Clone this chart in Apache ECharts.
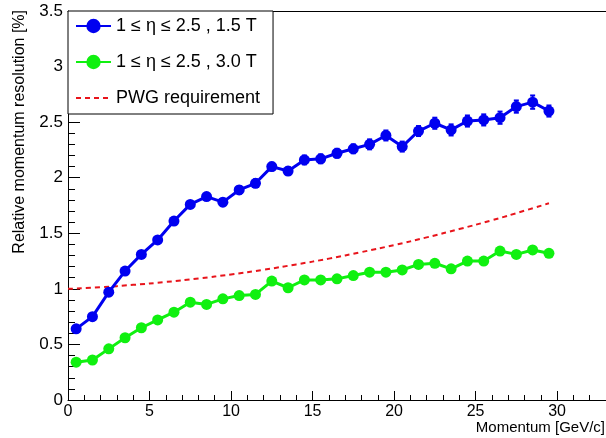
<!DOCTYPE html>
<html>
<head>
<meta charset="utf-8">
<script src="https://cdn.jsdelivr.net/npm/echarts@6/dist/echarts.min.js"></script>
<style>
  html, body { margin: 0; padding: 0; background: #ffffff; }
  #chart { width: 606px; height: 438px; }
</style>
</head>
<body>
<div id="chart"></div>
<script>
  // bin centres (GeV/c)
  const momentum = [0.5, 1.5, 2.5, 3.5, 4.5, 5.5, 6.5, 7.5, 8.5, 9.5, 10.5, 11.5, 12.5, 13.5, 14.5,
    15.5, 16.5, 17.5, 18.5, 19.5, 20.5, 21.5, 22.5, 23.5, 24.5, 25.5, 26.5, 27.5, 28.5, 29.5]

  // 1 <= eta <= 2.5, 1.5 T
  const res15T = [0.64, 0.75, 0.97, 1.16, 1.31, 1.44, 1.61, 1.76, 1.83, 1.78, 1.89, 1.95, 2.10, 2.06, 2.16,
    2.17, 2.22, 2.26, 2.30, 2.38, 2.28, 2.42, 2.49, 2.43, 2.51, 2.52, 2.54, 2.64, 2.68, 2.60]
  const err15T = [0.02, 0.02, 0.02, 0.025, 0.025, 0.025, 0.03, 0.03, 0.03, 0.03, 0.035, 0.035, 0.035, 0.035, 0.04,
    0.04, 0.04, 0.04, 0.045, 0.045, 0.045, 0.045, 0.05, 0.05, 0.05, 0.05, 0.055, 0.055, 0.06, 0.05]

  // 1 <= eta <= 2.5, 3.0 T
  const res30T = [0.34, 0.36, 0.46, 0.56, 0.65, 0.72, 0.79, 0.88, 0.86, 0.91, 0.94, 0.95, 1.07, 1.01, 1.08,
    1.08, 1.09, 1.12, 1.15, 1.15, 1.17, 1.22, 1.23, 1.18, 1.25, 1.25, 1.34, 1.31, 1.35, 1.32]
  const err30T = [0.015, 0.015, 0.015, 0.015, 0.015, 0.015, 0.02, 0.02, 0.02, 0.02, 0.02, 0.02, 0.02, 0.02, 0.02,
    0.02, 0.02, 0.025, 0.025, 0.025, 0.025, 0.025, 0.025, 0.025, 0.03, 0.03, 0.03, 0.03, 0.03, 0.03]

  // PWG requirement curve
  const pwgMomentum = [0, 2, 4, 6, 8, 10, 12, 14, 16, 18, 20, 22, 24, 26, 28, 29.5]
  const pwgRes = [1.00, 1.015, 1.036, 1.062, 1.093, 1.13, 1.172, 1.22, 1.272, 1.331, 1.394, 1.463, 1.538, 1.617, 1.703, 1.77]

  const legendNames = ['1 ≤ η ≤ 2.5 , 1.5 T', '1 ≤ η ≤ 2.5 , 3.0 T', 'PWG requirement']

  const FONT = 'Liberation Sans, Arial, Helvetica, sans-serif'
  const BLUE = '#0000f0'
  const GREEN = '#10f010'
  const RED = '#e8141b'

  function pairs(xs, ys) {
    return xs.map((x, i) => [x, ys[i]])
  }

  function errData(xs, ys, es) {
    return xs.map((x, i) => [x, ys[i] - es[i], ys[i] + es[i]])
  }

  function errorBars(color) {
    return function (params, api) {
      const top = api.coord([api.value(0), api.value(2)])
      const bot = api.coord([api.value(0), api.value(1)])
      const cap = 2.5
      const style = { stroke: color, lineWidth: 2 }
      return {
        type: 'group',
        children: [
          { type: 'line', shape: { x1: top[0], y1: top[1], x2: bot[0], y2: bot[1] }, style: style },
          { type: 'line', shape: { x1: top[0] - cap, y1: top[1], x2: top[0] + cap, y2: top[1] }, style: style },
          { type: 'line', shape: { x1: bot[0] - cap, y1: bot[1], x2: bot[0] + cap, y2: bot[1] }, style: style }
        ]
      }
    }
  }

  const chart = echarts.init(document.getElementById('chart'), null, { renderer: 'canvas' })

  chart.setOption({
    animation: false,
    backgroundColor: '#ffffff',
    textStyle: { fontFamily: FONT },
    grid: {
      left: 68,
      right: 0,
      top: 11,
      bottom: 38
    },
    legend: {
      data: [
        { name: legendNames[0] },
        { name: legendNames[1] },
        { name: legendNames[2], itemStyle: { opacity: 0 } }
      ],
      orient: 'vertical',
      left: 68,
      top: 11,
      itemWidth: 35,
      itemHeight: 18,
      itemGap: 18,
      padding: [6, 13, 7, 7],
      backgroundColor: '#ffffff',
      borderColor: '#000000',
      borderWidth: 1,
      borderRadius: 0,
      selectedMode: false,
      z: 10,
      textStyle: { fontFamily: FONT, fontSize: 18, color: '#000000' }
    },
    xAxis: [
      {
        type: 'value',
        min: 0,
        max: 33,
        interval: 5,
        position: 'bottom',
        splitLine: { show: false },
        axisLine: { show: true, onZero: false, lineStyle: { color: '#000000', width: 1 } },
        axisTick: { show: true, inside: true, length: 9, lineStyle: { color: '#000000' } },
        axisLabel: { margin: 4, fontSize: 16, color: '#000000', fontFamily: FONT, showMaxLabel: false }
      },
      {
        type: 'value',
        min: 0,
        max: 33,
        interval: 1,
        position: 'bottom',
        splitLine: { show: false },
        axisLine: { show: false, onZero: false },
        axisTick: { show: true, inside: true, length: 5, lineStyle: { color: '#000000' } },
        axisLabel: { show: false }
      },
      {
        type: 'value',
        min: 0,
        max: 33,
        position: 'top',
        splitLine: { show: false },
        axisLine: { show: true, onZero: false, lineStyle: { color: '#000000', width: 1 } },
        axisTick: { show: false },
        axisLabel: { show: false }
      }
    ],
    yAxis: [
      {
        type: 'value',
        min: 0,
        max: 3.5,
        interval: 0.5,
        position: 'left',
        splitLine: { show: false },
        axisLine: { show: true, onZero: false, lineStyle: { color: '#000000', width: 1 } },
        axisTick: { show: true, inside: true, length: 12, lineStyle: { color: '#000000' } },
        axisLabel: { margin: 5, fontSize: 17, color: '#000000', fontFamily: FONT }
      },
      {
        type: 'value',
        min: 0,
        max: 3.5,
        interval: 0.1,
        position: 'left',
        splitLine: { show: false },
        axisLine: { show: false, onZero: false },
        axisTick: { show: true, inside: true, length: 7, lineStyle: { color: '#000000' } },
        axisLabel: { show: false }
      }
    ],
    graphic: [
      {
        type: 'text',
        x: 20,
        y: 10,
        rotation: Math.PI / 2,
        style: {
          text: 'Relative momentum resolution [%]',
          fontFamily: FONT,
          fontSize: 16,
          fill: '#000000',
          align: 'right',
          verticalAlign: 'middle'
        }
      },
      {
        type: 'text',
        x: 605,
        y: 428,
        style: {
          text: 'Momentum [GeV/c]',
          fontFamily: FONT,
          fontSize: 15,
          fill: '#000000',
          align: 'right',
          verticalAlign: 'middle'
        }
      }
    ],
    series: [
      {
        name: legendNames[2],
        type: 'line',
        data: pairs(pwgMomentum, pwgRes),
        smooth: true,
        showSymbol: false,
        symbol: 'none',
        z: 2,
        lineStyle: { color: RED, width: 2, type: [5, 4] },
        itemStyle: { color: RED }
      },
      {
        type: 'custom',
        data: errData(momentum, res15T, err15T),
        renderItem: errorBars(BLUE),
        z: 3,
        silent: true
      },
      {
        type: 'custom',
        data: errData(momentum, res30T, err30T),
        renderItem: errorBars(GREEN),
        z: 3,
        silent: true
      },
      {
        name: legendNames[0],
        type: 'line',
        data: pairs(momentum, res15T),
        symbol: 'circle',
        symbolSize: 11,
        z: 4,
        lineStyle: { color: BLUE, width: 3 },
        itemStyle: { color: BLUE }
      },
      {
        name: legendNames[1],
        type: 'line',
        data: pairs(momentum, res30T),
        symbol: 'circle',
        symbolSize: 11,
        z: 4,
        lineStyle: { color: GREEN, width: 3 },
        itemStyle: { color: GREEN }
      }
    ]
  })
</script>
</body>
</html>
